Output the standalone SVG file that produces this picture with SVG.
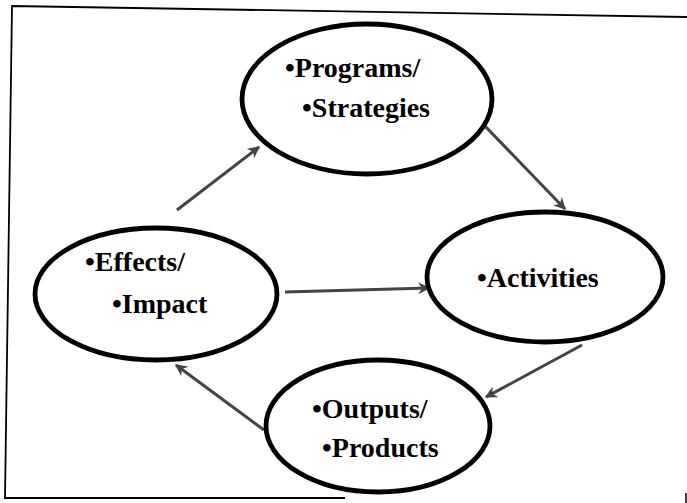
<svg xmlns="http://www.w3.org/2000/svg" width="687" height="503" viewBox="0 0 687 503">
<style>
.node ellipse{fill:#fff;stroke:#000;stroke-width:4.8}
.node text{font-family:"Liberation Serif","Times New Roman",serif;font-weight:bold;font-size:28px;fill:#000}
.conn line{stroke:#444;stroke-width:3;marker-end:url(#ah)}
.frame{fill:none;stroke:#000;stroke-width:1.8}
</style>
<defs>
<marker id="ah" viewBox="0 0 10 10" refX="9" refY="5" markerWidth="4" markerHeight="4" orient="auto" markerUnits="strokeWidth">
<path d="M0,0 L10,5 L0,10 L3,5 Z" fill="#444"/>
</marker>
</defs>
<rect width="687" height="503" fill="#fff"/>
<path class="frame" d="M687,17 L12,6 L5,498 L345,498"/>
<line x1="686" y1="493" x2="686" y2="503" stroke="#000" stroke-width="1.5"/>
<g id="connectors" class="conn">
<line x1="177" y1="210" x2="259" y2="147"/>
<line x1="483" y1="124" x2="565" y2="209"/>
<line x1="285" y1="292" x2="429" y2="288"/>
<line x1="582" y1="345" x2="486" y2="397"/>
<line x1="264" y1="430" x2="176" y2="365"/>
</g>
<g id="programs" class="node">
<ellipse cx="367" cy="99" rx="125" ry="75"/>
<text x="285" y="77">•Programs/</text>
<text x="302" y="117">•Strategies</text>
</g>
<g id="effects" class="node">
<ellipse cx="156" cy="294" rx="121" ry="66"/>
<text x="85" y="271">•Effects/</text>
<text x="112" y="313">•Impact</text>
</g>
<g id="activities" class="node">
<ellipse cx="545" cy="277" rx="118" ry="65"/>
<text x="477" y="287">•Activities</text>
</g>
<g id="outputs" class="node">
<ellipse cx="378" cy="426" rx="112" ry="66"/>
<text x="312" y="418">•Outputs/</text>
<text x="322" y="457">•Products</text>
</g>
</svg>
